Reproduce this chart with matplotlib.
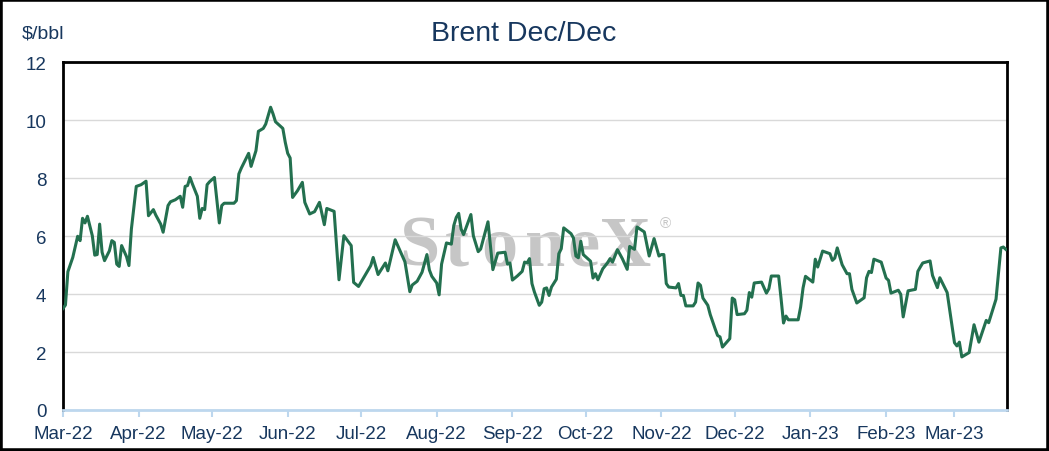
import pandas as pd
from matplotlib import pyplot as plt
from matplotlib.patches import Rectangle
import matplotlib.dates as mdates

# Brent Dec/Dec spread
DATES = [
    "2022-03-01", "2022-03-02", "2022-03-03", "2022-03-05", "2022-03-07", "2022-03-08",
    "2022-03-09", "2022-03-10", "2022-03-11", "2022-03-13", "2022-03-14", "2022-03-15",
    "2022-03-16", "2022-03-17", "2022-03-18", "2022-03-20", "2022-03-21", "2022-03-22",
    "2022-03-23", "2022-03-24", "2022-03-25", "2022-03-27", "2022-03-28", "2022-03-29",
    "2022-03-30", "2022-03-31", "2022-04-02", "2022-04-04", "2022-04-05", "2022-04-07",
    "2022-04-08", "2022-04-10", "2022-04-11", "2022-04-13", "2022-04-14", "2022-04-16",
    "2022-04-18", "2022-04-19", "2022-04-20", "2022-04-21", "2022-04-22", "2022-04-23",
    "2022-04-25", "2022-04-26", "2022-04-27", "2022-04-28", "2022-04-29", "2022-04-30",
    "2022-05-02", "2022-05-04", "2022-05-05", "2022-05-06", "2022-05-10", "2022-05-11",
    "2022-05-12", "2022-05-13", "2022-05-16", "2022-05-17", "2022-05-19", "2022-05-20",
    "2022-05-22", "2022-05-23", "2022-05-25", "2022-05-26", "2022-05-27", "2022-05-30",
    "2022-05-31", "2022-06-01", "2022-06-02", "2022-06-03", "2022-06-05", "2022-06-07",
    "2022-06-08", "2022-06-10", "2022-06-12", "2022-06-14", "2022-06-16", "2022-06-17",
    "2022-06-20", "2022-06-22", "2022-06-24", "2022-06-27", "2022-06-28", "2022-06-30",
    "2022-07-05", "2022-07-06", "2022-07-08", "2022-07-11", "2022-07-12", "2022-07-15",
    "2022-07-19", "2022-07-21", "2022-07-22", "2022-07-24", "2022-07-26", "2022-07-28",
    "2022-07-29", "2022-07-30", "2022-08-01", "2022-08-02", "2022-08-03", "2022-08-05",
    "2022-08-07", "2022-08-08", "2022-08-09", "2022-08-10", "2022-08-11", "2022-08-12",
    "2022-08-15", "2022-08-16", "2022-08-18", "2022-08-19", "2022-08-22", "2022-08-24",
    "2022-08-26", "2022-08-29", "2022-08-30", "2022-08-31", "2022-09-01", "2022-09-03",
    "2022-09-05", "2022-09-06", "2022-09-07", "2022-09-08", "2022-09-09", "2022-09-10",
    "2022-09-12", "2022-09-13", "2022-09-14", "2022-09-15", "2022-09-16", "2022-09-17",
    "2022-09-19", "2022-09-20", "2022-09-21", "2022-09-22", "2022-09-25", "2022-09-26",
    "2022-09-27", "2022-09-28", "2022-09-29", "2022-09-30", "2022-10-03", "2022-10-04",
    "2022-10-05", "2022-10-06", "2022-10-08", "2022-10-10", "2022-10-11", "2022-10-12",
    "2022-10-14", "2022-10-16", "2022-10-18", "2022-10-19", "2022-10-21", "2022-10-22",
    "2022-10-25", "2022-10-27", "2022-10-29", "2022-10-31", "2022-11-01", "2022-11-02",
    "2022-11-03", "2022-11-04", "2022-11-07", "2022-11-08", "2022-11-09", "2022-11-10",
    "2022-11-11", "2022-11-14", "2022-11-15", "2022-11-16", "2022-11-17", "2022-11-18",
    "2022-11-20", "2022-11-21", "2022-11-23", "2022-11-24", "2022-11-25", "2022-11-26",
    "2022-11-29", "2022-11-30", "2022-12-01", "2022-12-02", "2022-12-05", "2022-12-06",
    "2022-12-07", "2022-12-08", "2022-12-09", "2022-12-12", "2022-12-14", "2022-12-15",
    "2022-12-16", "2022-12-19", "2022-12-20", "2022-12-21", "2022-12-22", "2022-12-23",
    "2022-12-27", "2022-12-28", "2022-12-29", "2022-12-30", "2023-01-02", "2023-01-03",
    "2023-01-04", "2023-01-06", "2023-01-09", "2023-01-10", "2023-01-11", "2023-01-12",
    "2023-01-14", "2023-01-16", "2023-01-17", "2023-01-18", "2023-01-20", "2023-01-23",
    "2023-01-24", "2023-01-25", "2023-01-26", "2023-01-27", "2023-01-30", "2023-02-01",
    "2023-02-02", "2023-02-03", "2023-02-06", "2023-02-07", "2023-02-08", "2023-02-10",
    "2023-02-13", "2023-02-14", "2023-02-15", "2023-02-16", "2023-02-19", "2023-02-20",
    "2023-02-22", "2023-02-23", "2023-02-26", "2023-03-01", "2023-03-02", "2023-03-03",
    "2023-03-04", "2023-03-07", "2023-03-09", "2023-03-11", "2023-03-14", "2023-03-15",
    "2023-03-18", "2023-03-20", "2023-03-21", "2023-03-22",
]
SPREAD = [
    3.50, 3.62, 4.77, 5.26, 5.99, 5.84,
    6.61, 6.45, 6.68, 6.01, 5.34, 5.36,
    6.41, 5.44, 5.15, 5.49, 5.84, 5.78,
    5.03, 4.95, 5.67, 5.29, 4.98, 6.24,
    6.99, 7.71, 7.77, 7.89, 6.70, 6.91,
    6.72, 6.41, 6.13, 7.05, 7.18, 7.25,
    7.37, 6.99, 7.71, 7.74, 8.02, 7.79,
    7.37, 6.61, 6.95, 6.91, 7.77, 7.87,
    8.02, 6.45, 7.05, 7.13, 7.13, 7.22,
    8.14, 8.34, 8.85, 8.40, 8.94, 9.61,
    9.71, 9.86, 10.44, 10.21, 9.94, 9.71,
    9.23, 8.85, 8.69, 7.33, 7.56, 7.85,
    7.16, 6.76, 6.84, 7.16, 6.39, 6.95,
    6.85, 4.49, 6.01, 5.67, 4.40, 4.26,
    4.98, 5.26, 4.67, 5.07, 4.80, 5.87,
    5.11, 4.08, 4.31, 4.44, 4.75, 5.36,
    4.83, 4.61, 4.38, 3.97, 5.03, 5.76,
    5.72, 6.36, 6.64, 6.78, 6.24, 6.05,
    6.74, 6.01, 5.46, 5.55, 6.49, 4.84,
    5.41, 5.44, 5.03, 5.07, 4.48, 4.62,
    4.78, 5.10, 5.07, 5.22, 4.36, 4.07,
    3.61, 3.72, 4.18, 4.21, 3.95, 4.24,
    4.51, 5.39, 5.56, 6.28, 6.08, 5.93,
    5.31, 5.25, 5.82, 5.36, 5.13, 4.55,
    4.70, 4.49, 4.87, 5.08, 5.22, 5.10,
    5.53, 5.22, 4.85, 5.64, 5.54, 6.31,
    6.14, 5.31, 5.91, 5.31, 5.36, 5.36,
    4.36, 4.24, 4.21, 4.36, 3.95, 3.95,
    3.59, 3.59, 3.72, 4.38, 4.30, 3.86,
    3.61, 3.29, 2.80, 2.57, 2.52, 2.17,
    2.46, 3.86, 3.80, 3.29, 3.32, 3.44,
    4.05, 3.89, 4.38, 4.41, 4.03, 4.18,
    4.62, 4.62, 3.84, 3.00, 3.24, 3.11,
    3.11, 3.55, 4.21, 4.61, 4.41, 5.20,
    4.93, 5.48, 5.39, 5.16, 5.24, 5.59,
    5.01, 4.70, 4.70, 4.16, 3.69, 3.87,
    4.56, 4.78, 4.74, 5.20, 5.10, 4.55,
    4.47, 4.03, 4.13, 3.99, 3.21, 4.11,
    4.16, 4.78, 4.93, 5.07, 5.14, 4.64,
    4.22, 4.56, 4.05, 2.32, 2.21, 2.34,
    1.83, 1.98, 2.94, 2.34, 3.09, 3.01,
    3.82, 5.59, 5.62, 5.54,
]

TITLE = "Brent Dec/Dec"
UNIT = "$/bbl"
Y_TICKS = [0, 2, 4, 6, 8, 10, 12]
X_START = "2022-03-01"
X_END = "2023-03-22"

NAVY = "#17375E"
GREEN = "#23704F"
W, H = 1049, 452

plt.rcParams["font.family"] = ["Liberation Sans", "DejaVu Sans"]

fig = plt.figure(figsize=(W / 100, H / 100), dpi=100)
ax = fig.add_axes([63 / W, 41 / H, 944 / W, 348 / H])

dates = pd.to_datetime(DATES)
ax.plot(dates, SPREAD, color=GREEN, lw=2.2, zorder=3, solid_joinstyle="round")

ax.set_ylim(0, 12)
ax.set_xlim(pd.Timestamp(X_START), pd.Timestamp(X_END) + pd.Timedelta(hours=12))
ax.set_yticks(Y_TICKS)
ax.set_xticks(pd.date_range(X_START, "2023-03-01", freq="MS"))
ax.xaxis.set_major_formatter(mdates.DateFormatter("%b-%y"))

ax.grid(axis="y", color="#D9D9D9", lw=1)
ax.tick_params(axis="y", length=0, pad=12, labelsize=13.5, labelcolor=NAVY)
ax.tick_params(axis="x", length=5, width=1.5, color="#BDD7EE", pad=6,
               labelsize=13.5, labelcolor=NAVY)
for side in ["left", "top", "right"]:
    ax.spines[side].set_color("black")
    ax.spines[side].set_linewidth(2)
ax.spines["bottom"].set_color("#BDD7EE")
ax.spines["bottom"].set_linewidth(2)
ax.spines["bottom"].set_zorder(4)

fig.text(524 / W, 1 - 34 / H, TITLE, ha="center", va="center",
         fontsize=20.5, color=NAVY)
fig.text(22 / W, 1 - 33.5 / H, UNIT, ha="left", va="center",
         fontsize=14, color=NAVY)

# StoneX watermark behind the grid, letters spaced out like the logo
for ch, px in zip("StoneX", [419, 457, 499, 545, 584, 625]):
    ax.text(px / W, 1 - 266 / H, ch, transform=fig.transFigure,
            ha="center", va="baseline", fontsize=52, color="#C6C6C6",
            family="Liberation Serif", weight="bold", zorder=1)
ax.text(665 / W, 1 - 224 / H, "\u00ae", transform=fig.transFigure,
        ha="center", va="center", fontsize=11, color="#C6C6C6", zorder=1)

fig.patches.append(Rectangle((0, 0), 1, 1, transform=fig.transFigure,
                             fill=False, edgecolor="black", lw=4))

fig.savefig("out.png", dpi=100)
